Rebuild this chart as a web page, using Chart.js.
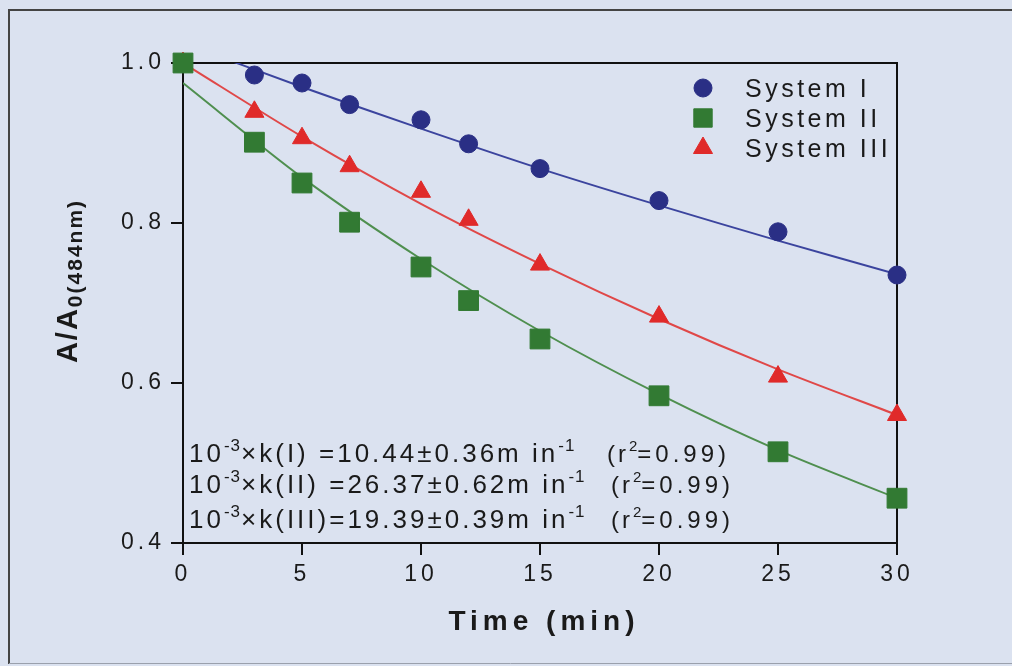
<!DOCTYPE html>
<html>
<head>
<meta charset="utf-8">
<script src="https://cdn.jsdelivr.net/npm/chart.js@4/dist/chart.umd.min.js"></script>
<style>
  html, body { margin: 0; padding: 0; background: #dbe2f0; }
  #wrap { width: 1012px; height: 666px; }
</style>
</head>
<body>
<div id="wrap"><canvas id="c" width="1012" height="666"></canvas></div>
<script>
// measured points
const times = [0, 3, 5, 7, 10, 12, 15, 20, 25, 30];
const systemI = [1.0, 0.985, 0.975, 0.948, 0.929, 0.899, 0.868, 0.828, 0.789, 0.735];
const systemII = [1.0, 0.901, 0.85, 0.801, 0.745, 0.703, 0.655, 0.584, 0.514, 0.456];
const systemIII = [1.0, 0.939, 0.906, 0.871, 0.839, 0.804, 0.748, 0.683, 0.608, 0.56];

// fitted curves (System I runs out of the top at ~1.8 min)
const fitTimes = [0, 5, 10, 15, 20, 25, 30];
const fitI = [1.025, 0.970, 0.918, 0.868, 0.822, 0.778, 0.736];
const fitII = [0.975, 0.857, 0.755, 0.665, 0.586, 0.516, 0.456];
const fitIII = [1.0, 0.908, 0.824, 0.749, 0.680, 0.617, 0.560];

const xTicks = [0, 5, 10, 15, 20, 25, 30];
const yTicks = [0.4, 0.6, 0.8, 1.0];

const seriesNames = ['System I', 'System II', 'System III'];
const rateLabels = ['(I) ', '(II) ', '(III)'];
const rateValues = ['=10.44\u00b10.36m in', '=26.37\u00b10.62m in', '=19.39\u00b10.39m in'];
const r2Text = '=0.99)';

const BLUE = '#2a2f85', BLUE_LINE = '#3b449e';
const GREEN = '#327a33', GREEN_LINE = '#4f8f4f';
const RED = '#e02a2a', RED_LINE = '#e04848';
const FONT = '"Liberation Sans", Arial, sans-serif';

const pts = (xs, ys) => xs.map((x, i) => ({ x, y: ys[i] }));

// draw a run of text pieces (normal / super / subscript) one after another
function drawRich(ctx, x, y, parts) {
  let cx = x;
  for (const p of parts) {
    ctx.font = (p.bold ? 'bold ' : '') + p.size + 'px ' + FONT;
    ctx.letterSpacing = (p.ls || 0) + 'px';
    ctx.fillText(p.t, cx, y + (p.dy || 0));
    cx += ctx.measureText(p.t).width;
  }
  ctx.letterSpacing = '0px';
  return cx;
}

function richWidth(ctx, parts) {
  let w = 0;
  for (const p of parts) {
    ctx.font = (p.bold ? 'bold ' : '') + p.size + 'px ' + FONT;
    ctx.letterSpacing = (p.ls || 0) + 'px';
    w += ctx.measureText(p.t).width;
  }
  ctx.letterSpacing = '0px';
  return w;
}

const decor = {
  id: 'decor',
  beforeDraw(chart) {
    const ctx = chart.ctx;
    ctx.save();
    ctx.fillStyle = '#dbe2f0';
    ctx.fillRect(0, 0, chart.width, chart.height);
    ctx.strokeStyle = '#444';
    ctx.lineWidth = 2;
    ctx.beginPath();
    ctx.moveTo(9, 664);
    ctx.lineTo(9, 10);
    ctx.lineTo(1012, 10);
    ctx.stroke();
    ctx.strokeStyle = '#9aa0ac';
    ctx.lineWidth = 1;
    ctx.beginPath();
    ctx.moveTo(9, 663.5);
    ctx.lineTo(1012, 663.5);
    ctx.stroke();
    ctx.restore();
    ctx.letterSpacing = '4px';
  },
  beforeDatasetsDraw(chart) {
    const { ctx, chartArea: a } = chart;
    ctx.save();
    ctx.letterSpacing = '0px';
    ctx.strokeStyle = '#111';
    ctx.lineWidth = 2;
    ctx.strokeRect(a.left, a.top, a.right - a.left, a.bottom - a.top);
    ctx.restore();
  },
  afterDraw(chart) {
    const ctx = chart.ctx;
    ctx.save();
    ctx.letterSpacing = '0px';
    ctx.fillStyle = '#1a1a1a';
    ctx.textBaseline = 'alphabetic';
    ctx.textAlign = 'left';

    // legend
    const lx = 703, rows = [88, 118, 148];
    const styles = ['circle', 'rect', 'triangle'];
    const cols = [BLUE, GREEN, RED];
    const sizes = [9, 13, 11];
    rows.forEach((ry, i) => {
      ctx.fillStyle = cols[i];
      ctx.strokeStyle = cols[i];
      Chart.helpers.drawPoint(ctx, { pointStyle: styles[i], radius: sizes[i], borderWidth: 1 }, lx, ry);
      ctx.fillStyle = '#1a1a1a';
      ctx.font = '25px ' + FONT;
      ctx.letterSpacing = '3.5px';
      ctx.fillText(seriesNames[i], 745, ry + 9);
      ctx.letterSpacing = '0px';
    });

    // rate constants
    const bases = [462, 493, 528];
    const rX = [607, 611, 611];
    bases.forEach((by, i) => {
      drawRich(ctx, 189, by, [
        { t: '10', size: 26, ls: 3 },
        { t: '-3', size: 17, dy: -11, ls: 1 },
        { t: '\u00d7k' + rateLabels[i] + rateValues[i], size: 26, ls: 3 },
        { t: '-1', size: 17, dy: -11, ls: 1 }
      ]);
      drawRich(ctx, rX[i], by, [
        { t: '(r', size: 24, ls: 3 },
        { t: '2', size: 15, dy: -11 },
        { t: r2Text, size: 24, ls: 4 }
      ]);
    });

    // x axis title
    ctx.font = 'bold 28px ' + FONT;
    ctx.letterSpacing = '5px';
    ctx.textAlign = 'center';
    ctx.fillText('Time (min)', 544, 630);
    ctx.letterSpacing = '0px';

    // y axis title, rotated
    const yParts = [
      { t: 'A/A', size: 29, bold: true, ls: 2 },
      { t: '0(484nm)', size: 21, bold: true, dy: 5, ls: 2 }
    ];
    ctx.translate(77, 281);
    ctx.rotate(-Math.PI / 2);
    ctx.textAlign = 'left';
    drawRich(ctx, -richWidth(ctx, yParts) / 2, 0, yParts);
    ctx.restore();
  }
};

const marker = (label, data, color, style, r, order) => ({
  label, data, type: 'scatter', showLine: false,
  pointStyle: style, pointRadius: r, pointHoverRadius: r,
  backgroundColor: color, borderColor: color, borderWidth: 1,
  clip: false, order
});
const fitLine = (data, color) => ({
  data, type: 'line', showLine: true, pointRadius: 0,
  borderColor: color, borderWidth: 2, tension: 0.3, fill: false,
  order: 10
});

new Chart(document.getElementById('c'), {
  data: {
    datasets: [
      marker(seriesNames[0], pts(times, systemI), BLUE, 'circle', 9, 3),
      marker(seriesNames[1], pts(times, systemII), GREEN, 'rect', 14, 1),
      marker(seriesNames[2], pts(times, systemIII), RED, 'triangle', 11, 2),
      fitLine(pts(fitTimes, fitI), BLUE_LINE),
      fitLine(pts(fitTimes, fitII), GREEN_LINE),
      fitLine(pts(fitTimes, fitIII), RED_LINE)
    ]
  },
  options: {
    responsive: false,
    devicePixelRatio: 1,
    animation: false,
    events: [],
    layout: { padding: { top: 63, right: 115, left: 0, bottom: 0 } },
    plugins: { legend: { display: false }, tooltip: { enabled: false } },
    scales: {
      x: {
        type: 'linear', min: 0, max: 30,
        afterBuildTicks: s => { s.ticks = xTicks.map(v => ({ value: v })); },
        afterFit: s => { s.height = 123; },
        grid: { drawOnChartArea: false, drawTicks: true, tickLength: 12, color: '#111', lineWidth: 2 },
        border: { display: true, color: '#111', width: 2 },
        ticks: { color: '#1a1a1a', font: { family: FONT, size: 23 }, padding: 6, maxRotation: 0 }
      },
      y: {
        type: 'linear', min: 0.4, max: 1.0,
        afterBuildTicks: s => { s.ticks = yTicks.map(v => ({ value: v })); },
        afterFit: s => { s.width = 183; },
        grid: { drawOnChartArea: false, drawTicks: true, tickLength: 12, color: '#111', lineWidth: 2 },
        border: { display: true, color: '#111', width: 2 },
        ticks: { color: '#1a1a1a', font: { family: FONT, size: 23 }, padding: 6, callback: v => v.toFixed(1) }
      }
    }
  },
  plugins: [decor]
});
</script>
</body>
</html>
